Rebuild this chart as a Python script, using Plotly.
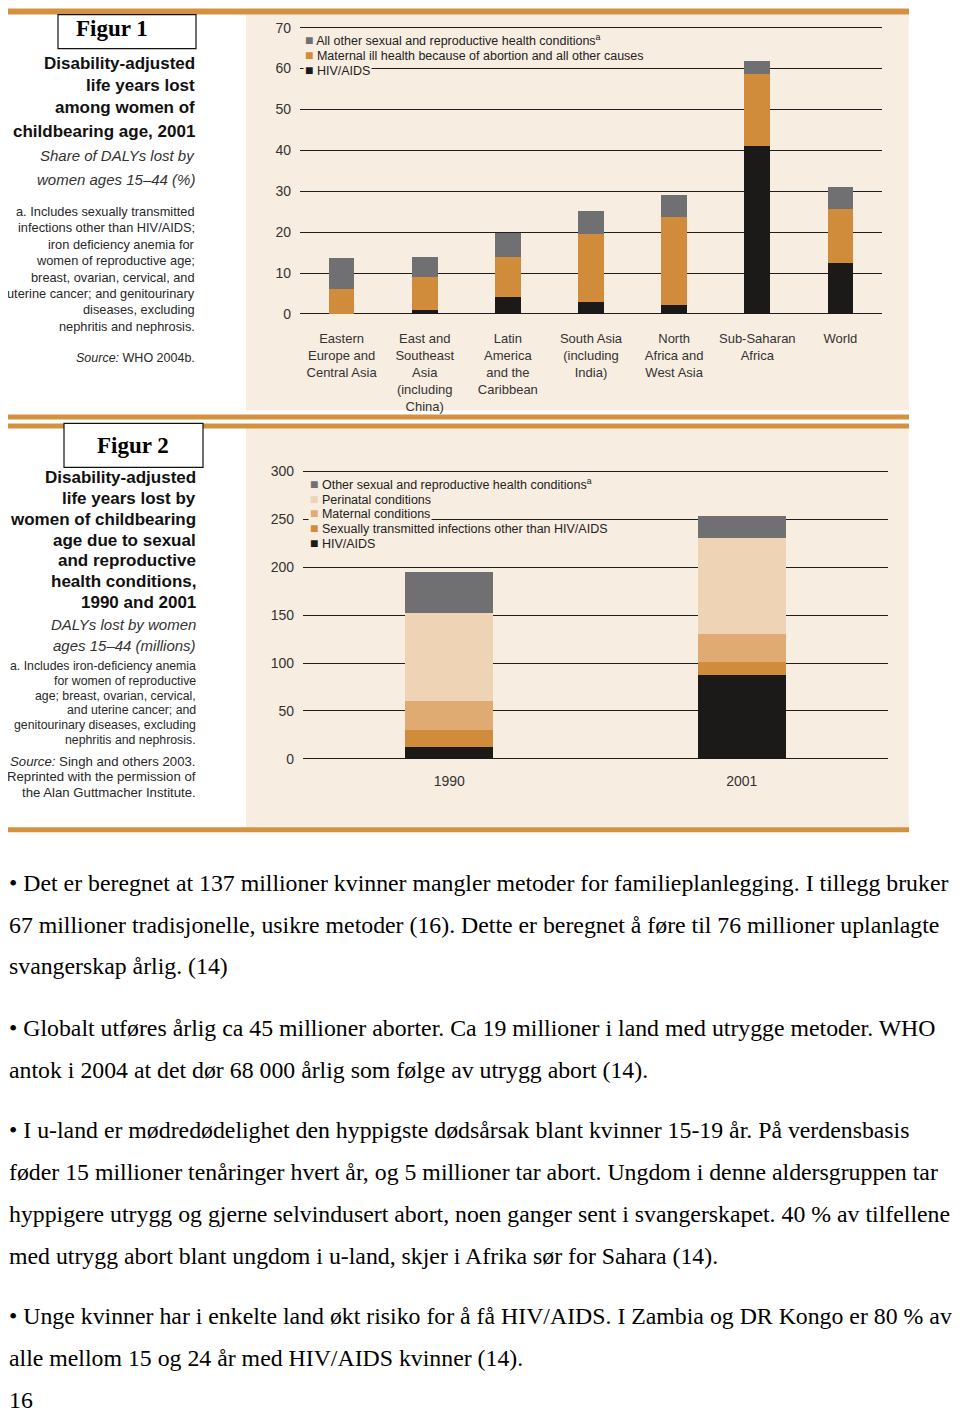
import plotly.graph_objects as go

# the page puts the plot a little in from the top-left corner, and the capture
# comes out slightly squeezed vertically, so positions are stretched to match
OFF_X, OFF_Y = 8, 13.5
SY = 0.992
W, H = 952, 1405

# --- Figur 1: share of DALYs lost by women 15-44 (%), 2001
regions = ["EECA", "ESEA", "LAC", "SA", "NAWA", "SSA", "WLD"]
region_labels = [
    "Eastern<br>Europe and<br>Central Asia",
    "East and<br>Southeast<br>Asia<br>(including<br>China)",
    "Latin<br>America<br>and the<br>Caribbean",
    "South Asia<br>(including<br>India)",
    "North<br>Africa and<br>West Asia",
    "Sub-Saharan<br>Africa",
    "World",
]
hiv_share = [0.0, 1.0, 4.1, 3.0, 2.3, 41.0, 12.4]
maternal_share = [6.1, 8.0, 9.7, 16.6, 21.3, 17.6, 13.2]
other_share = [7.5, 5.0, 6.0, 5.5, 5.4, 3.3, 5.4]
fig1_ticks = [0, 10, 20, 30, 40, 50, 60, 70]

# --- Figur 2: DALYs lost by women 15-44 (millions)
years = ["1990", "2001"]
hiv_m = [12.0, 88.0]
sti_m = [18.0, 13.5]
maternal_m = [30.0, 29.0]
perinatal_m = [92.5, 100.0]
other_m = [43.0, 22.5]
fig2_ticks = [0, 50, 100, 150, 200, 250, 300]

# colours
BLACK = "#1b1a18"
GREY = "#707072"
ORANGE = "#d08b3b"
MATERNAL = "#dfab72"
PERINATAL = "#eed4b4"
CREAM = "#f8ede1"
RULE = "#d4913f"

SANS = "Liberation Sans, Arial, sans-serif"
SERIF = "Liberation Serif, Times New Roman, serif"


def px_x(x):
    return (x - OFF_X) / W


def px_y(y):
    return 1 - (y / SY - OFF_Y) / H


fig = go.Figure()

# figure 1 bars (stack bottom -> top)
for vals, col in [(hiv_share, BLACK), (maternal_share, ORANGE), (other_share, GREY)]:
    fig.add_trace(go.Bar(x=regions, y=vals, marker=dict(color=col, line=dict(width=0)),
                         width=0.31, xaxis="x", yaxis="y", showlegend=False))

# figure 2 bars
for vals, col in [(hiv_m, BLACK), (sti_m, ORANGE), (maternal_m, MATERNAL),
                  (perinatal_m, PERINATAL), (other_m, GREY)]:
    fig.add_trace(go.Bar(x=years, y=vals, marker=dict(color=col, line=dict(width=0)),
                         width=0.30, xaxis="x2", yaxis="y2", showlegend=False))

shapes = []


def rect(x0, y0, x1, y1, fill, line=None, layer="below"):
    shapes.append(dict(type="rect", xref="paper", yref="paper",
                       x0=px_x(x0), x1=px_x(x1), y0=px_y(y1), y1=px_y(y0),
                       fillcolor=fill, line=line or dict(width=0), layer=layer))


# panels and rules
rect(246, 14, 909, 410, CREAM)
rect(8, 8, 909, 14, RULE)
rect(246, 427, 909, 827, CREAM)
rect(8, 414, 909, 419, RULE)
rect(8, 423, 909, 428, RULE)
rect(8, 827, 909, 832, RULE)
# title boxes
rect(58, 14, 196, 48, "white", dict(color="#111", width=1.2), layer="above")
rect(64, 423, 203, 467, "white", dict(color="#111", width=1.2), layer="above")

ann = []


def text(x, y, s, size, anchor="right", font=SANS, color="#1a1a1a", bg=None, pad=0):
    a = dict(xref="paper", yref="paper", x=px_x(x), y=px_y(y), text=s,
             showarrow=False, xanchor=anchor, yanchor="middle",
             font=dict(size=size, family=font, color=color), borderpad=pad)
    if bg:
        a["bgcolor"] = bg
    ann.append(a)


# legends first, so neighbouring rows draw over the cream backing of masked rows
legend1 = [("All other sexual and reproductive health conditions<sup>a</sup>", GREY, None),
           ("Maternal ill health because of abortion and all other causes", ORANGE, None),
           ("HIV/AIDS", BLACK, CREAM)]
legend2 = [("Other sexual and reproductive health conditions<sup>a</sup>", GREY, None),
           ("Perinatal conditions", PERINATAL, None),
           ("Maternal conditions", MATERNAL, CREAM),
           ("Sexually transmitted infections other than HIV/AIDS", ORANGE, None),
           ("HIV/AIDS", BLACK, None)]
rows = [(303, 39.5 + i * 15, r) for i, r in enumerate(legend1)]
rows += [(308, 483.5 + i * 14.7, r) for i, r in enumerate(legend2)]
rows.sort(key=lambda r: r[2][2] is None)
for x, y, (s, c, bg) in rows:
    text(x, y, f"<span style='color:{c};font-size:14px'>■</span> {s}", 12.5,
         anchor="left", color="#222", bg=bg, pad=1)

text(112, 28, "<b>Figur 1</b>", 23, anchor="center", font=SERIF, color="#000")
text(133, 445, "<b>Figur 2</b>", 23, anchor="center", font=SERIF, color="#000")

# sidebar 1
for s, y in zip(["Disability-adjusted", "life years lost", "among women of",
                 "childbearing age, 2001"], [63, 85, 107, 131]):
    text(196, y, f"<b>{s}</b>", 17, color="#111")
for s, y in zip(["Share of DALYs lost by", "women ages 15–44 (%)"], [155, 179]):
    text(196, y, f"<i>{s}</i>", 15, color="#333")
notes1 = ["a. Includes sexually transmitted", "infections other than HIV/AIDS;",
          "iron deficiency anemia for", "women of reproductive age;",
          "breast, ovarian, cervical, and", "uterine cancer; and genitourinary",
          "diseases, excluding", "nephritis and nephrosis."]
for i, s in enumerate(notes1):
    text(196, 211 + i * 16.4, s, 12.8, color="#282828")
text(196, 358, "<i>Source:</i> WHO 2004b.", 12.5, color="#282828")

# sidebar 2
for i, s in enumerate(["Disability-adjusted", "life years lost by", "women of childbearing",
                       "age due to sexual", "and reproductive", "health conditions,",
                       "1990 and 2001"]):
    text(197, 477 + i * 20.9, f"<b>{s}</b>", 17, color="#111")
for s, y in zip(["DALYs lost by women", "ages 15–44 (millions)"], [624, 645]):
    text(197, y, f"<i>{s}</i>", 15, color="#333")
notes2 = ["a. Includes iron-deficiency anemia", "for women of reproductive",
          "age; breast, ovarian, cervical,", "and uterine cancer; and",
          "genitourinary diseases, excluding", "nephritis and nephrosis."]
for i, s in enumerate(notes2):
    text(197, 666 + i * 14.7, s, 12.3, color="#282828")
for s, y in zip(["<i>Source:</i> Singh and others 2003.", "Reprinted with the permission of",
                 "the Alan Guttmacher Institute."], [761, 776.5, 792]):
    text(197, y, s, 13.2, color="#282828")

# body text
body = [
    ("• Det er beregnet at 137 millioner kvinner mangler metoder for familieplanlegging. I tillegg bruker", 883),
    ("67 millioner tradisjonelle, usikre metoder (16). Dette er beregnet å føre til 76 millioner uplanlagte", 924.5),
    ("svangerskap årlig. (14)", 966),
    ("• Globalt utføres årlig ca 45 millioner aborter. Ca 19 millioner i land med utrygge metoder. WHO", 1028),
    ("antok i 2004 at det dør 68 000 årlig som følge av utrygg abort (14).", 1069.5),
    ("• I u-land er mødredødelighet den hyppigste dødsårsak blant kvinner 15-19 år. På verdensbasis", 1130.5),
    ("føder 15 millioner tenåringer hvert år, og 5 millioner tar abort. Ungdom i denne aldersgruppen tar", 1172.5),
    ("hyppigere utrygg og gjerne selvindusert abort, noen ganger sent i svangerskapet. 40 % av tilfellene", 1214.5),
    ("med utrygg abort blant ungdom i u-land, skjer i Afrika sør for Sahara (14).", 1256),
    ("• Unge kvinner har i enkelte land økt risiko for å få HIV/AIDS. I Zambia og DR Kongo er 80 % av", 1316.5),
    ("alle mellom 15 og 24 år med HIV/AIDS kvinner (14).", 1358),
    ("16", 1400),
]
for s, y in body:
    text(8, y, s, 23.8, anchor="left", font=SERIF, color="#000")

axis_font = dict(family=SANS, size=14, color="#333")
fig.update_layout(
    width=W, height=H, margin=dict(l=0, r=0, t=0, b=0),
    paper_bgcolor="white", plot_bgcolor="rgba(0,0,0,0)",
    barmode="stack", showlegend=False,
    shapes=shapes, annotations=ann,
    xaxis=dict(domain=[px_x(300), px_x(882)], anchor="y", type="category", range=[-0.5, 6.5],
               tickvals=regions, ticktext=region_labels, showgrid=False, zeroline=False,
               ticks="", tickfont=dict(family=SANS, size=13, color="#333"),
               ticklabelstandoff=13, fixedrange=True),
    yaxis=dict(domain=[px_y(315.55), px_y(24.95)], anchor="x", range=[-0.5, 70.5],
               tickvals=fig1_ticks, showgrid=True, gridcolor="#1e1e1e", gridwidth=1.4,
               zeroline=False, ticks="", tickfont=axis_font, ticklabelstandoff=8),
    xaxis2=dict(domain=[px_x(303), px_x(888)], anchor="y2", type="category", range=[-0.5, 1.5],
                showgrid=False, zeroline=False, ticks="",
                tickfont=dict(family=SANS, size=14, color="#333"), ticklabelstandoff=10),
    yaxis2=dict(domain=[px_y(760.6), px_y(469.1)], anchor="x2", range=[-2, 302],
                tickvals=fig2_ticks, showgrid=True, gridcolor="#1e1e1e", gridwidth=1.4,
                zeroline=False, ticks="", tickfont=axis_font, ticklabelstandoff=8),
)

fig.write_html("out.html")
